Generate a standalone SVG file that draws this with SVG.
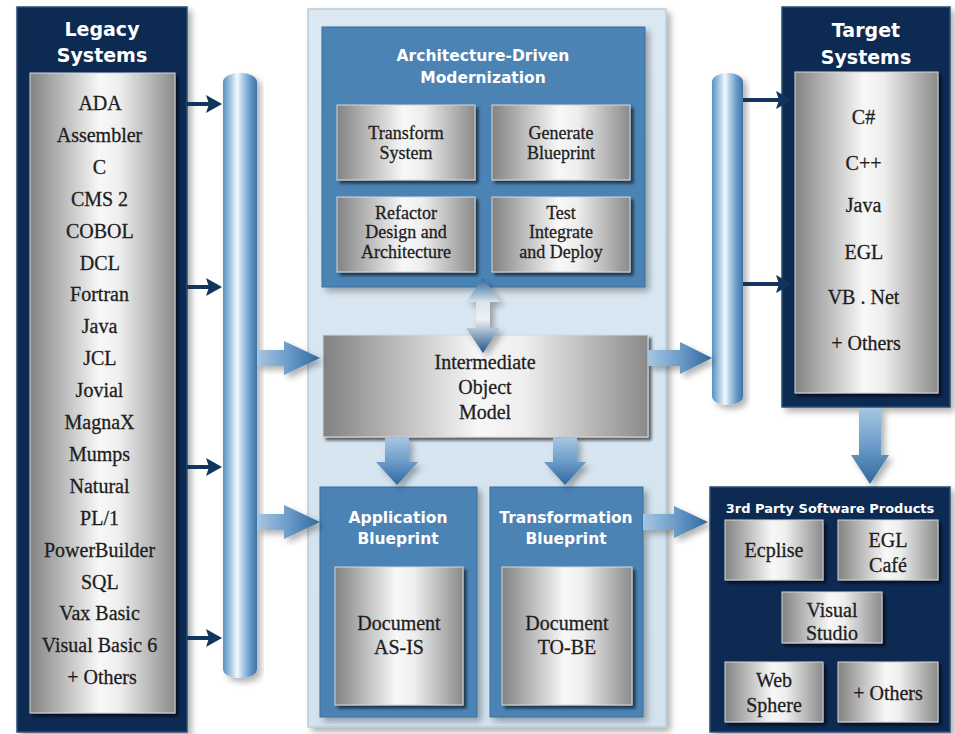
<svg xmlns="http://www.w3.org/2000/svg" width="955" height="734" viewBox="0 0 955 734">
<style>
.navy{fill:#0c2c52;stroke:#2c4e76;stroke-width:1.5}
.grey{fill:url(#gGrey);stroke:#d8d8d8;stroke-width:1}
.blue{fill:#4c83b5;stroke:#3a6d9d;stroke-width:1}
.pipe{fill:url(#gPipe)}
.t{font-family:"Liberation Serif","Times New Roman",serif;font-size:20px;fill:#1e1e1e;stroke:#1e1e1e;stroke-width:0.3;text-anchor:middle}
.t18{font-family:"Liberation Serif","Times New Roman",serif;font-size:18px;fill:#1e1e1e;stroke:#1e1e1e;stroke-width:0.3;text-anchor:middle}
.h{font-family:"DejaVu Sans",Verdana,sans-serif;font-weight:bold;fill:#fff;text-anchor:middle}
.sline{stroke:#12355c;stroke-width:4}
</style>
<defs>
<linearGradient id="gGrey" x1="0" y1="0" x2="1" y2="0">
<stop offset="0" stop-color="#828282"/>
<stop offset="0.48" stop-color="#f8f8f8"/>
<stop offset="0.62" stop-color="#eeeeee"/>
<stop offset="1" stop-color="#8a8a8a"/>
</linearGradient>
<linearGradient id="gPipe" x1="0" y1="0" x2="1" y2="0">
<stop offset="0" stop-color="#5b90c0"/>
<stop offset="0.2" stop-color="#9cc1e0"/>
<stop offset="0.42" stop-color="#f4f8fc"/>
<stop offset="0.6" stop-color="#a9c8e3"/>
<stop offset="0.8" stop-color="#6698c6"/>
<stop offset="1" stop-color="#3e74a8"/>
</linearGradient>
<linearGradient id="gArrowH" x1="0" y1="0" x2="1" y2="0">
<stop offset="0" stop-color="#a6c6e2"/>
<stop offset="0.5" stop-color="#6b9cc9"/>
<stop offset="1" stop-color="#2f679c"/>
</linearGradient>
<linearGradient id="gArrowV" x1="0" y1="0" x2="0" y2="1">
<stop offset="0" stop-color="#a6c6e2"/>
<stop offset="0.5" stop-color="#6b9cc9"/>
<stop offset="1" stop-color="#2f679c"/>
</linearGradient>
<linearGradient id="gDbl" x1="0" y1="0" x2="0" y2="1">
<stop offset="0" stop-color="#2c6396"/>
<stop offset="0.32" stop-color="#d9e4ec"/>
<stop offset="0.55" stop-color="#eef2f5"/>
<stop offset="1" stop-color="#1f5586"/>
</linearGradient>
<linearGradient id="gPanel" x1="0" y1="0" x2="0" y2="1">
<stop offset="0" stop-color="#dce9f3"/>
<stop offset="1" stop-color="#d2e3ee"/>
</linearGradient>
<filter id="sh" x="-10%" y="-10%" width="130%" height="130%">
<feDropShadow dx="3" dy="3" stdDeviation="1.8" flood-color="#000" flood-opacity="0.6"/>
</filter>
<filter id="shSoft" x="-10%" y="-10%" width="130%" height="130%">
<feDropShadow dx="4" dy="4" stdDeviation="3" flood-color="#000" flood-opacity="0.3"/>
</filter>
<marker id="mHead" viewBox="0 0 16 18" refX="4" refY="9" markerWidth="16" markerHeight="18" markerUnits="userSpaceOnUse" orient="auto">
<path d="M0,0 L16,9 L0,18 L3,9 Z" fill="#12355c"/>
</marker>
</defs>

<rect x="0" y="0" width="955" height="734" fill="#ffffff"/>

<g id="center-panel">
<rect x="308" y="9" width="358" height="718" fill="url(#gPanel)" stroke="#b5cddd" stroke-width="1.5" filter="url(#shSoft)"/>
</g>

<g id="legacy">
<rect class="navy" x="17" y="7" width="170" height="725" filter="url(#shSoft)"/>
<text class="h" font-size="19" x="102" y="36">Legacy</text>
<text class="h" font-size="19" x="102" y="62">Systems</text>
<rect class="grey" x="30" y="73" width="145" height="640" filter="url(#sh)"/>
<text class="t">
<tspan x="102" y="110">ADA</tspan>
<tspan x="102" y="142">Assembler</tspan>
<tspan x="102" y="174">C</tspan>
<tspan x="102" y="206">CMS 2</tspan>
<tspan x="102" y="238">COBOL</tspan>
<tspan x="102" y="270">DCL</tspan>
<tspan x="102" y="301">Fortran</tspan>
<tspan x="102" y="333">Java</tspan>
<tspan x="102" y="365">JCL</tspan>
<tspan x="102" y="397">Jovial</tspan>
<tspan x="102" y="429">MagnaX</tspan>
<tspan x="102" y="461">Mumps</tspan>
<tspan x="102" y="493">Natural</tspan>
<tspan x="102" y="525">PL/1</tspan>
<tspan x="102" y="557">PowerBuilder</tspan>
<tspan x="102" y="589">SQL</tspan>
<tspan x="102" y="620">Vax Basic</tspan>
<tspan x="102" y="652">Visual Basic 6</tspan>
<tspan x="102" y="684">+ Others</tspan>
</text>
</g>

<g id="left-pipe">
<rect class="pipe" x="223" y="73" width="34" height="605" rx="15" ry="9" filter="url(#shSoft)"/>
</g>

<g id="right-pipe">
<rect class="pipe" x="712" y="73" width="31" height="332" rx="14" ry="9" filter="url(#shSoft)"/>
</g>

<g id="adm">
<rect class="blue" x="322" y="27" width="323" height="260" filter="url(#shSoft)"/>
<text class="h" font-size="15.5" x="483" y="60.5">Architecture-Driven</text>
<text class="h" font-size="15.5" x="483" y="82.5">Modernization</text>
</g>
<g id="transform-system">
<rect class="grey" x="337" y="105" width="138" height="75" filter="url(#sh)"/>
<text class="t18"><tspan x="406" y="139">Transform</tspan><tspan x="406" y="159">System</tspan></text>
</g>
<g id="generate-blueprint">
<rect class="grey" x="492" y="105" width="138" height="75" filter="url(#sh)"/>
<text class="t18"><tspan x="561" y="139">Generate</tspan><tspan x="561" y="159">Blueprint</tspan></text>
</g>
<g id="refactor">
<rect class="grey" x="337" y="197" width="138" height="75" filter="url(#sh)"/>
<text class="t18"><tspan x="406" y="219">Refactor</tspan><tspan x="406" y="238">Design and</tspan><tspan x="406" y="258">Architecture</tspan></text>
</g>
<g id="test-integrate">
<rect class="grey" x="492" y="197" width="138" height="75" filter="url(#sh)"/>
<text class="t18"><tspan x="561" y="219">Test</tspan><tspan x="561" y="238">Integrate</tspan><tspan x="561" y="258">and Deploy</tspan></text>
</g>

<g id="iom">
<rect class="grey" x="323" y="335" width="325" height="102" filter="url(#sh)"/>
<text class="t"><tspan x="485" y="368.5">Intermediate</tspan><tspan x="485" y="393.5">Object</tspan><tspan x="485" y="418.5">Model</tspan></text>
</g>

<g id="app-blueprint">
<rect class="blue" x="320" y="487" width="157" height="230" filter="url(#shSoft)"/>
<text class="h" font-size="15.5" x="398" y="522.5">Application</text>
<text class="h" font-size="15.5" x="398" y="543.5">Blueprint</text>
<rect class="grey" x="335" y="567" width="128" height="138" filter="url(#sh)"/>
<text class="t"><tspan x="399" y="629.5">Document</tspan><tspan x="399" y="653.5">AS-IS</tspan></text>
</g>

<g id="trans-blueprint">
<rect class="blue" x="490" y="487" width="153" height="230" filter="url(#shSoft)"/>
<text class="h" font-size="15.5" x="566" y="522.5">Transformation</text>
<text class="h" font-size="15.5" x="566" y="543.5">Blueprint</text>
<rect class="grey" x="502" y="567" width="130" height="138" filter="url(#sh)"/>
<text class="t"><tspan x="567" y="629.5">Document</tspan><tspan x="567" y="653.5">TO-BE</tspan></text>
</g>

<g id="target">
<rect class="navy" x="782" y="7" width="168" height="400" filter="url(#shSoft)"/>
<text class="h" font-size="19" x="866" y="37">Target</text>
<text class="h" font-size="19" x="866" y="64">Systems</text>
<rect class="grey" x="795" y="72" width="143" height="321" filter="url(#sh)"/>
<text class="t">
<tspan x="866" y="123.5">C#</tspan>
<tspan x="866" y="169.5">C++</tspan>
<tspan x="866" y="211.5">Java</tspan>
<tspan x="866" y="258.5">EGL</tspan>
<tspan x="866" y="303.5">VB . Net</tspan>
<tspan x="866" y="349.5">+ Others</tspan>
</text>
</g>

<g id="third-party">
<rect class="navy" x="710" y="487" width="240" height="245" filter="url(#shSoft)"/>
<text class="h" font-size="13" x="830" y="512.5">3rd Party Software Products</text>
</g>
<g id="eclipse">
<rect class="grey" x="725" y="520" width="98" height="60" filter="url(#sh)"/>
<text class="t" font-size="21" x="774" y="557">Ecplise</text>
</g>
<g id="egl-cafe">
<rect class="grey" x="838" y="520" width="100" height="60" filter="url(#sh)"/>
<text class="t"><tspan x="888" y="547">EGL</tspan><tspan x="888" y="572">Café</tspan></text>
</g>
<g id="visual-studio">
<rect class="grey" x="782" y="592" width="100" height="51" filter="url(#sh)"/>
<text class="t"><tspan x="832" y="617">Visual</tspan><tspan x="832" y="640">Studio</tspan></text>
</g>
<g id="websphere">
<rect class="grey" x="725" y="662" width="98" height="60" filter="url(#sh)"/>
<text class="t"><tspan x="774" y="687">Web</tspan><tspan x="774" y="712">Sphere</tspan></text>
</g>
<g id="others-3p">
<rect class="grey" x="838" y="662" width="100" height="60" filter="url(#sh)"/>
<text class="t" x="888" y="700">+ Others</text>
</g>

<g id="connectors">
<line class="sline" x1="187" y1="104" x2="210" y2="104" marker-end="url(#mHead)"/>
<line class="sline" x1="187" y1="287" x2="210" y2="287" marker-end="url(#mHead)"/>
<line class="sline" x1="187" y1="467" x2="210" y2="467" marker-end="url(#mHead)"/>
<line class="sline" x1="187" y1="638" x2="210" y2="638" marker-end="url(#mHead)"/>
<line class="sline" x1="743" y1="100" x2="780" y2="100" marker-end="url(#mHead)"/>
<line class="sline" x1="743" y1="284" x2="780" y2="284" marker-end="url(#mHead)"/>

<path d="M257,350 L284,350 L284,341 L320,358 L284,375 L284,366 L257,366 Z" fill="url(#gArrowH)" filter="url(#shSoft)"/>
<path d="M257,514 L284,514 L284,505 L320,522 L284,539 L284,530 L257,530 Z" fill="url(#gArrowH)" filter="url(#shSoft)"/>
<path d="M648,350 L680,350 L680,342 L712,358 L680,374 L680,366 L648,366 Z" fill="url(#gArrowH)" filter="url(#shSoft)"/>
<path d="M643,514 L674,514 L674,506 L708,522 L674,538 L674,530 L643,530 Z" fill="url(#gArrowH)" filter="url(#shSoft)"/>

<path d="M385,438 L409,438 L409,462 L418,462 L397,485 L376,462 L385,462 Z" fill="url(#gArrowV)" filter="url(#shSoft)"/>
<path d="M553,438 L577,438 L577,462 L586,462 L565,485 L544,462 L553,462 Z" fill="url(#gArrowV)" filter="url(#shSoft)"/>
<path d="M859,408 L881,408 L881,455 L889,455 L870,484 L851,455 L859,455 Z" fill="url(#gArrowV)" filter="url(#shSoft)"/>

<path d="M483,278 L500,302 L490,302 L490,328 L500,328 L483,353 L466,328 L476,328 L476,302 L466,302 Z" fill="url(#gDbl)" filter="url(#shSoft)"/>
</g>
</svg>
